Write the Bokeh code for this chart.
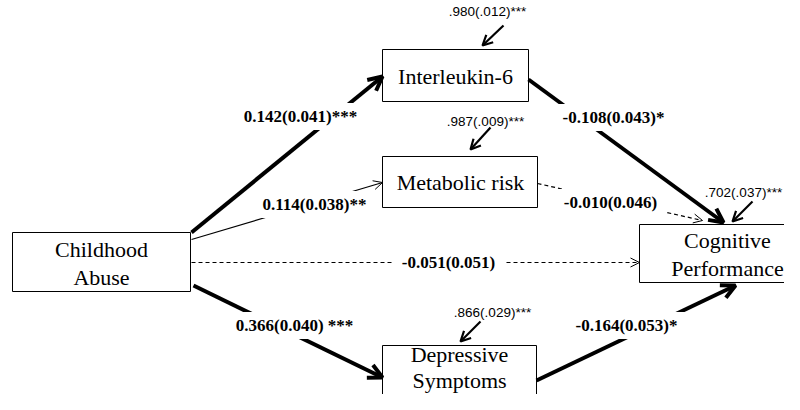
from bokeh.plotting import figure
from bokeh.models import Range1d, Arrow, OpenHead, ColumnDataSource, Label
from bokeh.core.properties import value
from bokeh.embed import file_html
from bokeh.resources import INLINE

# ---- data ----
node_names = ["Childhood\nAbuse", "Interleukin-6", "Metabolic risk",
              "Cognitive\nPerformance", "Depressive\nSymptoms"]
path_from = ["Childhood\nAbuse", "Childhood\nAbuse", "Childhood\nAbuse", "Childhood\nAbuse",
             "Interleukin-6", "Metabolic risk", "Depressive\nSymptoms"]
path_to = ["Interleukin-6", "Metabolic risk", "Cognitive\nPerformance", "Depressive\nSymptoms",
           "Cognitive\nPerformance", "Cognitive\nPerformance", "Cognitive\nPerformance"]
path_coef = ["0.142(0.041)***", "0.114(0.038)**", "-0.051(0.051)", "0.366(0.040) ***",
             "-0.108(0.043)*", "-0.010(0.046)", "-0.164(0.053)*"]
path_signif = [True, True, False, True, True, False, True]
resid_node = ["Interleukin-6", "Metabolic risk", "Cognitive\nPerformance", "Depressive\nSymptoms"]
resid_labels = [".980(.012)***", ".987(.009)***", ".702(.037)***", ".866(.029)***"]

# ---- layout (pixel space of the reference) ----
box = {  # left, right, top, bottom
    "Childhood\nAbuse": (12, 190, 238, 297),
    "Interleukin-6": (382, 528, 55, 107),
    "Metabolic risk": (382, 537, 162, 213),
    "Cognitive\nPerformance": (639, 815, 230, 288),
    "Depressive\nSymptoms": (382, 536, 351, 420),
}
text_center = {
    "Childhood\nAbuse": (101, 269),
    "Interleukin-6": (455, 82),
    "Metabolic risk": (460, 188),
    "Cognitive\nPerformance": (727, 260),
    "Depressive\nSymptoms": (459, 373),
}
line_height = {"Depressive\nSymptoms": 1.02}
edge_geom = [  # start, end, width
    ((191, 238), (382, 82), 4.0),
    ((191, 245), (382, 188), 1.2),
    ((191, 268), (639, 268), 1.2),
    ((193, 291), (382, 383), 4.0),
    ((528, 85), (723, 228), 4.0),
    ((537, 189), (702, 226), 1.2),
    ((536, 386), (735, 291), 4.0),
]
label_pos = [(300, 122), (314, 210), (448, 268), (294, 331),
             (613, 123), (610, 208), (626, 331)]
resid_geom = [((503, 31), (482, 51)), ((490, 133), (470, 155)),
              ((752, 207), (732, 227)), ((480, 327), (460, 347))]
resid_pos = [(487, 17), (485, 127), (743, 198), (492, 318)]

p = figure(width=784, height=394, output_backend="svg", toolbar_location=None,
           x_range=Range1d(0, 784), y_range=Range1d(400, 6),
           min_border=0, outline_line_color=None)
p.axis.visible = False
p.grid.visible = False
p.background_fill_color = "white"

# edges
for (s, e, w), sig in zip(edge_geom, path_signif):
    thick = w > 2
    head = OpenHead(size=14 if thick else 9, line_width=w if thick else 1.0, line_color="black")
    p.add_layout(Arrow(end=head, x_start=s[0], y_start=s[1], x_end=e[0], y_end=e[1],
                       line_width=w, line_color="black",
                       line_dash="solid" if sig else "4 3"))

# residual arrows
for s, e in resid_geom:
    p.add_layout(Arrow(end=OpenHead(size=10, line_width=2.2, line_color="black"),
                       x_start=s[0], y_start=s[1], x_end=e[0], y_end=e[1],
                       line_width=2.2, line_color="black"))

# boxes
bsrc = ColumnDataSource(dict(
    left=[box[n][0] for n in node_names], right=[box[n][1] for n in node_names],
    top=[box[n][2] for n in node_names], bottom=[box[n][3] for n in node_names],
    cx=[text_center[n][0] for n in node_names],
    cy=[text_center[n][1] for n in node_names],
    lh=[line_height.get(n, 1.1) for n in node_names],
    name=node_names))
p.quad(left="left", right="right", top="top", bottom="bottom", source=bsrc,
       fill_color="white", line_color="black", line_width=1)
p.text(x="cx", y="cy", text="name", source=bsrc, text_align="center",
       text_baseline="middle", text_font=value("Liberation Serif"),
       text_font_size="22px", text_line_height="lh", text_color="black")

# path coefficient labels (white background breaks the line)
for (x, y), t in zip(label_pos, path_coef):
    p.add_layout(Label(x=x, y=y, text=t, text_align="center", text_baseline="middle",
                       text_font="Liberation Serif", text_font_style="bold",
                       text_font_size="17px", text_color="black",
                       background_fill_color="white",
                       padding=dict(left=9, right=9, top=4, bottom=4)))

# residual labels
rsrc = ColumnDataSource(dict(x=[q[0] for q in resid_pos], y=[q[1] for q in resid_pos],
                             t=resid_labels))
p.text(x="x", y="y", text="t", source=rsrc, text_align="center", text_baseline="middle",
       text_font=value("Liberation Sans"), text_font_size="13.5px", text_color="black")

open("out.html", "w").write(file_html(p, INLINE))
